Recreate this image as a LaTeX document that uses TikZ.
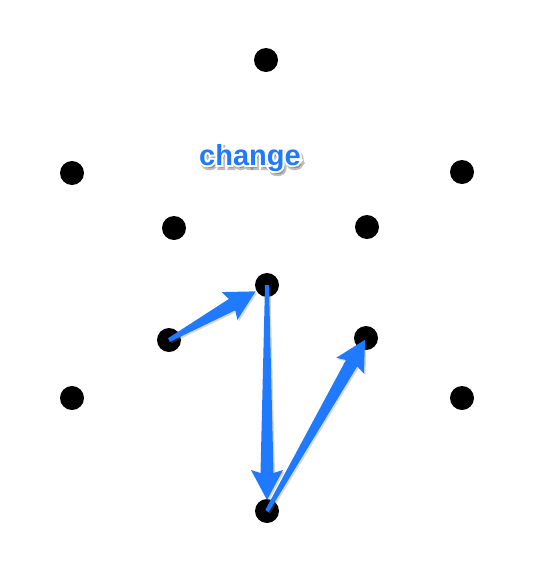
\documentclass[tikz,border=0pt]{standalone}
\usepackage{fontspec}
\setmainfont{Liberation Sans}
\newfontfamily\fatfont[FakeBold=14]{Liberation Sans Bold}
\usetikzlibrary{calc,shadows}
\definecolor{arrblue}{RGB}{32,122,255}
\tikzset{
  dot/.style={circle,fill=black,inner sep=0pt,minimum size=24pt},
  arr/.style={fill=arrblue,drop shadow={opacity=0.3,shadow xshift=1.5pt,shadow yshift=-1.5pt}},
  lbl/.style={font=\bfseries\fontsize{29}{29}\selectfont,inner sep=0pt,anchor=base},
  fat/.style={font=\fatfont\fontsize{29}{29}\selectfont,inner sep=0pt,anchor=base}
}
\newcommand\taparrow[3]{%
  \coordinate (tp) at ($(#2)!#3!(#1)$);
  \coordinate (hb) at ($(tp)!27pt!(#1)$);
  \coordinate (bb) at ($(tp)!30pt!(#1)$);
  \path[arr] ($(#1)!2pt!90:(tp)$) -- ($(hb)!6.5pt!90:(tp)$) -- ($(bb)!16pt!90:(tp)$) -- (tp)
     -- ($(bb)!16pt!-90:(tp)$) -- ($(hb)!6.5pt!-90:(tp)$) -- ($(#1)!2pt!-90:(tp)$) -- cycle;
}
\begin{document}
\begin{tikzpicture}[x=1pt,y=-1pt]
\useasboundingbox (0,0) rectangle (538,563);
\node[dot] (d1) at (266,60) {};
\node[dot] (d2) at (72,173) {};
\node[dot] (d3) at (462,172) {};
\node[dot] (d4) at (174,228) {};
\node[dot] (d5) at (367,227) {};
\node[dot] (d6) at (267,285) {};
\node[dot] (d7) at (169,340) {};
\node[dot] (d8) at (366,338) {};
\node[dot] (d9) at (72,398) {};
\node[dot] (d10) at (462,398) {};
\node[dot] (d11) at (267,511) {};
\taparrow{d7}{d6}{13pt}
\taparrow{d6}{d11}{11pt}
\taparrow{d11}{d8}{2pt}
\node[fat,text=black,opacity=0.25] (lshadow) at (252,168) {change};
\node[fat,text=white] (loutline) at (250,165) {change};
\node[lbl,text=arrblue] (label) at (250,165) {change};
\end{tikzpicture}
\end{document}
